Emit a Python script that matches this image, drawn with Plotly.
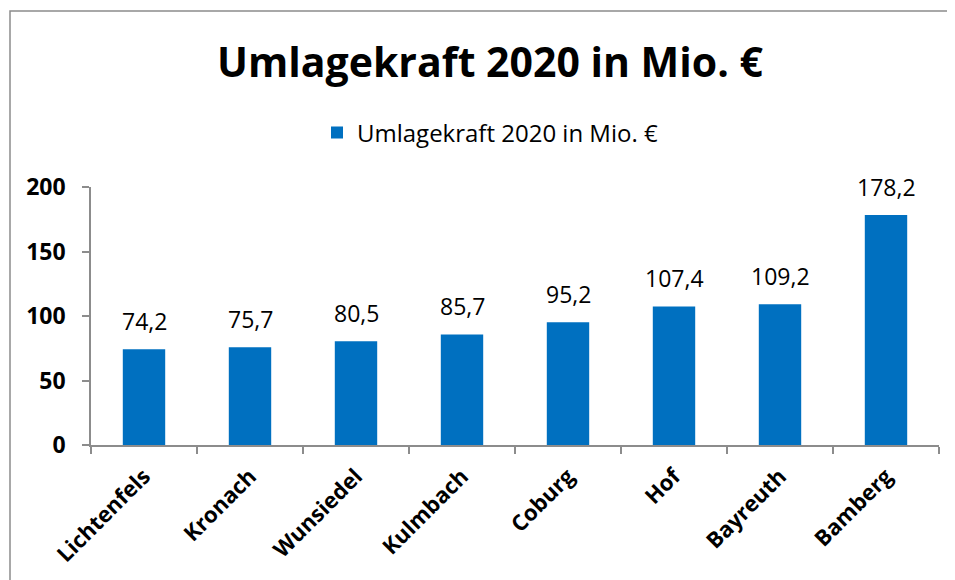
import plotly.graph_objects as go

categories = ["Lichtenfels", "Kronach", "Wunsiedel", "Kulmbach", "Coburg", "Hof", "Bayreuth", "Bamberg"]
values = [74.2, 75.7, 80.5, 85.7, 95.2, 107.4, 109.2, 178.2]
series_name = "Umlagekraft 2020 in Mio. €"
title_text = "Umlagekraft 2020 in Mio. €"
y_ticks = [0, 50, 100, 150, 200]

FONT = "Open Sans, Noto Sans, sans-serif"
BLUE = "#0070C0"
AXIS = "#8c8c8c"

# the page body has an 8px margin: work in screen pixels, then shift
OFF = 8
W, H = 955 - OFF, 580 - OFF
L, R, T, B = 91 - OFF, 16, 187 - OFF, 135
pw, ph = W - L - R, H - T - B


def px(xs):
    return (xs - OFF - L) / pw


def py(ys):
    return (H - B - (ys - OFF)) / ph


fig = go.Figure()
fig.add_trace(go.Bar(
    x=categories, y=values, name=series_name,
    marker=dict(color=BLUE, line=dict(width=0)),
    showlegend=True,
))

for c, v in zip(categories, values):
    fig.add_annotation(
        x=c, y=v, xref="x", yref="y",
        text=f"{v:.1f}".replace(".", ","),
        showarrow=False, yanchor="bottom", yshift=10,
        font=dict(family=FONT, size=23, color="#000000"),
    )

fig.add_shape(type="rect", xref="paper", yref="paper",
              x0=px(10), x1=px(975), y0=py(600), y1=py(11),
              line=dict(color=AXIS, width=1.5), fillcolor="rgba(0,0,0,0)", layer="below")

fig.update_layout(
    width=W, height=H,
    margin=dict(l=L, r=R, t=T, b=B),
    paper_bgcolor="white", plot_bgcolor="white",
    bargap=0.6,
    title=dict(text=title_text, x=(490 - OFF) / W, xanchor="center",
               y=1 - (63 - OFF) / H, yanchor="middle", yref="container",
               font=dict(family=FONT, size=41, color="#000000", weight="bold")),
    legend=dict(orientation="h", x=px(490), xanchor="center", y=py(133), yanchor="middle",
                font=dict(family=FONT, size=24, color="#000000"),
                itemsizing="constant", bgcolor="rgba(0,0,0,0)"),
    font=dict(family=FONT, color="#000000"),
)

fig.update_xaxes(
    type="category", showline=True, linecolor=AXIS, linewidth=1.5,
    ticks="outside", tickson="boundaries", ticklen=7, tickcolor=AXIS, tickwidth=1.5,
    tickangle=-45, showgrid=False, ticklabelstandoff=8,
    tickfont=dict(family=FONT, size=22, color="#000000", weight="bold"),
)
fig.update_yaxes(
    range=[0, 200], tickvals=y_ticks, showline=True, linecolor=AXIS, linewidth=1.5,
    ticks="outside", ticklen=7, tickcolor=AXIS, tickwidth=1.5, showgrid=False,
    zeroline=False, ticklabelstandoff=12,
    tickfont=dict(family=FONT, size=23, color="#000000", weight="bold"),
)

fig.write_html("out.html")
